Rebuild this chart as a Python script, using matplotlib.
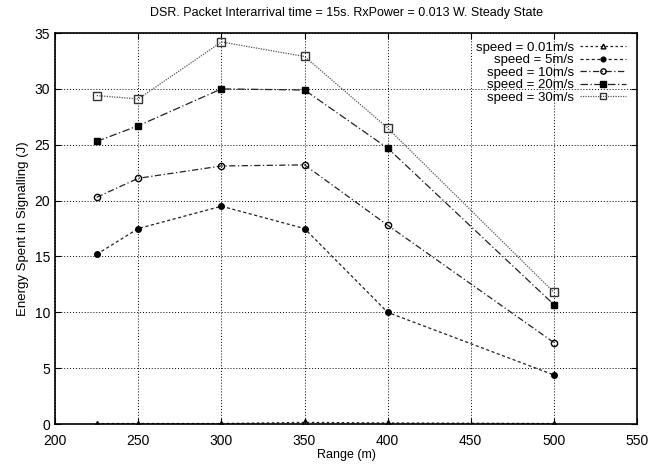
import matplotlib
matplotlib.use('Agg')
import matplotlib.pyplot as plt

plt.rcParams['font.family'] = ['Liberation Sans', 'DejaVu Sans']

# 数据
ranges = [225, 250, 300, 350, 400, 500]
speed_001 = [0.05, 0.05, 0.05, 0.15, 0.1, 0.05]
speed_5 = [15.2, 17.5, 19.5, 17.5, 10.0, 4.4]
speed_10 = [20.3, 22.0, 23.1, 23.2, 17.8, 7.3]
speed_20 = [25.3, 26.7, 30.0, 29.9, 24.7, 10.7]
speed_30 = [29.4, 29.1, 34.2, 32.9, 26.5, 11.8]
labels = ['speed = 0.01m/s', 'speed = 5m/s', 'speed = 10m/s',
          'speed = 20m/s', 'speed = 30m/s']

fig = plt.figure(figsize=(6.57, 4.65), dpi=100)
ax = fig.add_axes([0.084, 0.088, 0.8855, 0.841])

lw = 0.9
ax.plot(ranges, speed_001, color='#222222', linestyle=(0, (2, 2)), lw=lw,
        marker='^', ms=4, mfc='none', mec='black', label=labels[0])
ax.plot(ranges, speed_5, color='#222222', linestyle=(0, (2.5, 2)), lw=lw,
        marker='o', ms=4, mfc='black', mec='black', label=labels[1])
ax.plot(ranges, speed_10, color='#222222', linestyle=(0, (5, 2, 1, 2)), lw=lw,
        marker='o', ms=4.5, mfc='none', mec='black', label=labels[2])
ax.plot(ranges, speed_20, color='#222222', linestyle=(0, (6, 2, 1, 2)), lw=lw,
        marker='s', ms=5, mfc='black', mec='black', label=labels[3])
ax.plot(ranges, speed_30, color='#555555', linestyle=(0, (1, 1)), lw=lw,
        marker='s', ms=5.5, mfc='none', mec='#333333', label=labels[4])

ax.set_xlim(200, 550)
ax.set_ylim(0, 35)
ax.set_xticks(range(200, 551, 50))
ax.set_yticks(range(0, 36, 5))
ax.grid(True, color='black', linestyle=(0, (1, 2)), linewidth=0.7)
ax.tick_params(direction='in', top=True, right=True, labelsize=10, length=4)
ax.tick_params(axis='x', pad=7)
for s in ax.spines.values():
    s.set_linewidth(1.2)

ax.set_xlabel('Range (m)', fontsize=9, labelpad=1)
ax.set_ylabel('Energy Spent in Signalling (J)', fontsize=9.5)
ax.set_title('DSR. Packet Interarrival time = 15s. RxPower = 0.013 W. Steady State',
             fontsize=9, pad=12)

leg = ax.legend(loc='upper right', frameon=False, markerfirst=False,
                fontsize=9.5, handlelength=3.5, labelspacing=0.02,
                borderaxespad=0.2, handletextpad=0.45, markerscale=0.85,
                bbox_to_anchor=(0.995, 0.998))
for t in leg.get_texts():
    t.set_ha('right')
leg._legend_box.align = 'right'

fig.savefig('out.png', dpi=100)
